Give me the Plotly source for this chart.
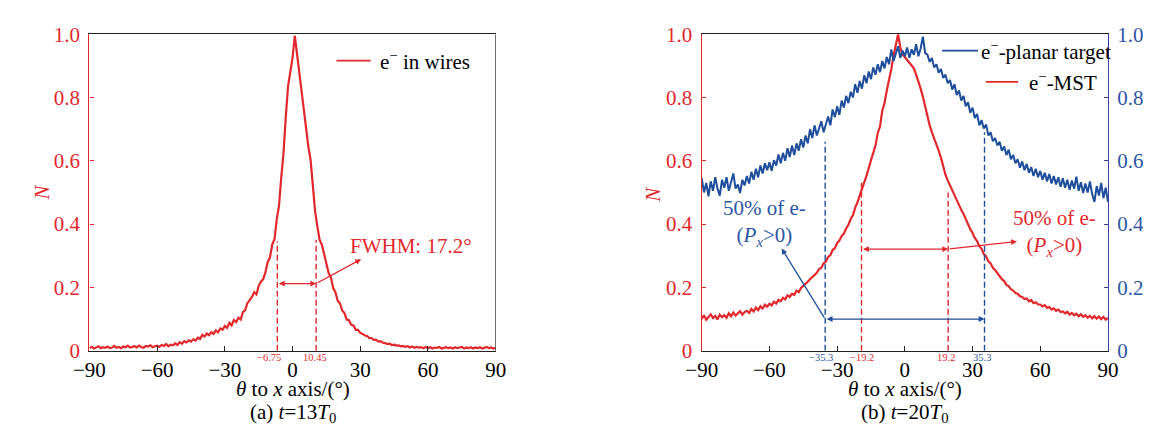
import plotly.graph_objects as go

# ---------------- data ----------------
ANGLES = list(range(-90, 91))  # theta to x axis (deg), 1 deg sampling

WIRES_N = [
    0.008, 0.012, 0.007, 0.010, 0.014, 0.008, 0.011, 0.009, 0.013, 0.008,
    0.010, 0.015, 0.009, 0.012, 0.008, 0.013, 0.011, 0.016, 0.010, 0.012,
    0.014, 0.010, 0.016, 0.012, 0.009, 0.015, 0.013, 0.017, 0.011, 0.014,
    0.016, 0.012, 0.018, 0.015, 0.021, 0.014, 0.019, 0.017, 0.023, 0.018,
    0.027, 0.022, 0.030, 0.026, 0.033, 0.029, 0.036, 0.032, 0.041, 0.037,
    0.050, 0.045, 0.054, 0.049, 0.058, 0.053, 0.064, 0.058, 0.070, 0.066,
    0.078, 0.072, 0.088, 0.080, 0.097, 0.090, 0.104, 0.098, 0.122, 0.128,
    0.150, 0.160, 0.170, 0.185, 0.178, 0.205, 0.218, 0.226, 0.248, 0.280,
    0.295, 0.335, 0.352, 0.415, 0.458, 0.548, 0.625, 0.738, 0.835, 0.880,
    0.925, 0.995, 0.935, 0.875, 0.825, 0.765, 0.705, 0.645, 0.602, 0.520,
    0.440, 0.392, 0.350, 0.335, 0.305, 0.282, 0.245, 0.232, 0.198, 0.185,
    0.158, 0.150, 0.127, 0.119, 0.098, 0.096, 0.082, 0.080, 0.066, 0.066,
    0.056, 0.053, 0.048, 0.047, 0.040, 0.040, 0.034, 0.035, 0.029, 0.030,
    0.025, 0.024, 0.021, 0.022, 0.018, 0.019, 0.016, 0.017, 0.014, 0.015,
    0.012, 0.014, 0.010, 0.013, 0.009, 0.012, 0.010, 0.011, 0.008, 0.012,
    0.008, 0.011, 0.007, 0.010, 0.009, 0.012, 0.007, 0.009, 0.011, 0.008,
    0.010, 0.007, 0.011, 0.008, 0.009, 0.012, 0.007, 0.010, 0.008, 0.011,
    0.007, 0.010, 0.008, 0.011, 0.007, 0.009, 0.012, 0.008, 0.010, 0.007, 0.009,
]

MST_N = [
    0.100, 0.112, 0.098, 0.108, 0.115, 0.103, 0.110, 0.099, 0.114, 0.106,
    0.112, 0.104, 0.118, 0.109, 0.121, 0.111, 0.117, 0.125, 0.114, 0.122,
    0.126, 0.119, 0.132, 0.124, 0.136, 0.128, 0.140, 0.133, 0.145, 0.139,
    0.148, 0.143, 0.155, 0.149, 0.161, 0.156, 0.167, 0.162, 0.175, 0.170,
    0.180, 0.176, 0.190, 0.185, 0.198, 0.204, 0.212, 0.218, 0.226, 0.233,
    0.242, 0.246, 0.258, 0.262, 0.276, 0.282, 0.296, 0.302, 0.318, 0.324,
    0.340, 0.348, 0.362, 0.370, 0.386, 0.398, 0.416, 0.428, 0.452, 0.468,
    0.490, 0.508, 0.532, 0.552, 0.582, 0.602, 0.625, 0.648, 0.688, 0.708,
    0.758, 0.782, 0.822, 0.852, 0.890, 0.932, 0.968, 1.000, 0.958, 0.935,
    0.928, 0.918, 0.912, 0.900, 0.892, 0.872, 0.852, 0.828, 0.802, 0.770,
    0.742, 0.712, 0.690, 0.672, 0.652, 0.632, 0.610, 0.582, 0.556, 0.538,
    0.522, 0.505, 0.492, 0.474, 0.462, 0.445, 0.432, 0.414, 0.402, 0.384,
    0.372, 0.356, 0.346, 0.330, 0.322, 0.305, 0.298, 0.282, 0.276, 0.262,
    0.255, 0.244, 0.236, 0.226, 0.220, 0.208, 0.204, 0.194, 0.190, 0.182,
    0.180, 0.172, 0.170, 0.163, 0.165, 0.156, 0.160, 0.150, 0.153, 0.146,
    0.146, 0.140, 0.144, 0.135, 0.138, 0.130, 0.134, 0.126, 0.130, 0.122,
    0.124, 0.118, 0.123, 0.114, 0.119, 0.112, 0.117, 0.109, 0.115, 0.107,
    0.112, 0.104, 0.110, 0.102, 0.109, 0.101, 0.108, 0.100, 0.107, 0.098, 0.104,
]

PLANAR_N = [
    0.545, 0.500, 0.530, 0.488, 0.535, 0.505, 0.548, 0.512, 0.490, 0.540,
    0.515, 0.548, 0.505, 0.532, 0.560, 0.512, 0.525, 0.498, 0.540, 0.522,
    0.552, 0.528, 0.565, 0.540, 0.575, 0.548, 0.585, 0.560, 0.592, 0.570,
    0.595, 0.568, 0.602, 0.585, 0.620, 0.592, 0.625, 0.600, 0.640, 0.612,
    0.648, 0.618, 0.655, 0.632, 0.668, 0.642, 0.680, 0.655, 0.700, 0.672,
    0.712, 0.680, 0.705, 0.725, 0.690, 0.715, 0.740, 0.712, 0.762, 0.738,
    0.772, 0.745, 0.790, 0.768, 0.805, 0.782, 0.818, 0.800, 0.842, 0.815,
    0.852, 0.828, 0.870, 0.845, 0.882, 0.858, 0.895, 0.872, 0.905, 0.880,
    0.915, 0.892, 0.928, 0.905, 0.952, 0.915, 0.935, 0.962, 0.925, 0.948,
    0.930, 0.958, 0.925, 0.952, 0.935, 0.968, 0.930, 0.955, 0.992, 0.940,
    0.935, 0.912, 0.925, 0.895, 0.905, 0.878, 0.890, 0.862, 0.872, 0.845,
    0.855, 0.825, 0.842, 0.808, 0.822, 0.790, 0.805, 0.772, 0.785, 0.752,
    0.768, 0.735, 0.748, 0.712, 0.728, 0.702, 0.715, 0.680, 0.690, 0.662,
    0.672, 0.648, 0.660, 0.632, 0.645, 0.618, 0.635, 0.605, 0.618, 0.592,
    0.605, 0.578, 0.598, 0.570, 0.590, 0.562, 0.580, 0.552, 0.575, 0.548,
    0.568, 0.540, 0.562, 0.535, 0.558, 0.528, 0.552, 0.525, 0.548, 0.518,
    0.545, 0.515, 0.540, 0.508, 0.538, 0.512, 0.550, 0.505, 0.532, 0.498,
    0.528, 0.500, 0.535, 0.495, 0.470, 0.520, 0.490, 0.530, 0.482, 0.515, 0.470,
]

X_TICKS = [-90, -60, -30, 0, 30, 60, 90]
Y_TICKS = [0, 0.2, 0.4, 0.6, 0.8, 1.0]
Y_TICK_TEXT = ["0", "0.2", "0.4", "0.6", "0.8", "1.0"]

# FWHM markers (panel a) and 50% markers (panel b)
FWHM_BOUNDS = [-6.75, 10.45]
FWHM_TOPS = [0.345, 0.350]
FWHM_ARROW_Y = 0.212
MST_BOUNDS = [-19.2, 19.2]
MST_TOPS = [0.54, 0.50]
MST_ARROW_Y = 0.321
PLANAR_BOUNDS = [-35.3, 35.3]
PLANAR_TOPS = [0.66, 0.69]
PLANAR_ARROW_Y = 0.10

# ---------------- style ----------------
W, H = 1151, 435
RED = "#e1282d"
BLUE = "#1f4e9c"
BLUE_AX = "#3a3f9f"
BLUE_TXT = "#2d56a6"
BLACK = "#222222"
FONT = "'Times New Roman', 'Liberation Serif', Times, 'DejaVu Serif', serif"
FS = 21


def px(x):
    return x / W


def py(y):
    return 1 - y / H


fig = go.Figure()

fig.add_trace(go.Scatter(x=ANGLES, y=WIRES_N, mode="lines", line=dict(color=RED, width=2.2),
                         xaxis="x", yaxis="y", showlegend=False, name="e<sup>−</sup> in wires"))
fig.add_trace(go.Scatter(x=ANGLES, y=MST_N, mode="lines", line=dict(color=RED, width=2.2),
                         xaxis="x2", yaxis="y2", showlegend=False, name="e<sup>−</sup>-MST"))
fig.add_trace(go.Scatter(x=ANGLES, y=PLANAR_N, mode="lines", line=dict(color=BLUE, width=2.0),
                         xaxis="x2", yaxis="y3", showlegend=False, name="e<sup>−</sup>-planar target"))

ydom = [py(350), py(15)]
xa = dict(range=[-90, 90], tickvals=X_TICKS, ticks="inside", ticklen=5, tickwidth=1, tickcolor=BLACK,
          showline=True, linecolor=BLACK, linewidth=1.3, mirror=True, showgrid=False, zeroline=False,
          tickfont=dict(family=FONT, size=FS, color="black"), fixedrange=True)
ya = dict(range=[0, 1], tickvals=Y_TICKS, ticktext=Y_TICK_TEXT, ticks="inside", ticklen=4,
          tickcolor=RED, showline=True, linecolor=RED, linewidth=1.3, showgrid=False, zeroline=False,
          tickfont=dict(family=FONT, size=FS, color=RED), domain=ydom, ticklabelstandoff=4)

fig.update_layout(
    width=W, height=H, margin=dict(l=0, r=0, t=0, b=0),
    paper_bgcolor="white", plot_bgcolor="white",
    font=dict(family=FONT, size=FS, color="black"),
    xaxis=dict(xa, domain=[px(67), px(483)], anchor="y"),
    yaxis=dict(ya, anchor="x"),
    xaxis2=dict(xa, domain=[px(694), px(1110)], anchor="y2"),
    yaxis2=dict(ya, anchor="x2"),
    yaxis3=dict(ya, anchor="x2", overlaying="y2", side="right", tickcolor=BLUE_AX, linecolor=BLUE_AX,
                tickfont=dict(family=FONT, size=FS, color=BLUE_TXT)),
)

shapes = []
# right border of panel (a)
shapes.append(dict(type="line", xref="x", yref="y", x0=90, x1=90, y0=0, y1=1,
                   line=dict(color=BLACK, width=1.3)))
dash = "6px,3px"
for xv, top in zip(FWHM_BOUNDS, FWHM_TOPS):
    shapes.append(dict(type="line", xref="x", yref="y", x0=xv, x1=xv, y0=0, y1=top,
                       line=dict(color=RED, width=1.4, dash=dash)))
for xv, top in zip(MST_BOUNDS, MST_TOPS):
    shapes.append(dict(type="line", xref="x2", yref="y2", x0=xv, x1=xv, y0=0, y1=top,
                       line=dict(color=RED, width=1.4, dash=dash)))
for xv, top in zip(PLANAR_BOUNDS, PLANAR_TOPS):
    shapes.append(dict(type="line", xref="x2", yref="y2", x0=xv, x1=xv, y0=0, y1=top,
                       line=dict(color=BLUE, width=1.4, dash=dash)))

# legend samples
shapes.append(dict(type="line", xref="paper", yref="paper", x0=px(320), x1=px(355), y0=py(43), y1=py(43),
                   line=dict(color=RED, width=1.8)))
shapes.append(dict(type="line", xref="paper", yref="paper", x0=px(940), x1=px(977), y0=py(32.5), y1=py(32.5),
                   line=dict(color=BLUE, width=1.8)))
shapes.append(dict(type="line", xref="paper", yref="paper", x0=px(985), x1=px(1018), y0=py(65.5), y1=py(65.5),
                   line=dict(color=RED, width=1.8)))
fig.update_layout(shapes=shapes)

ann = []


def text(x, y, s, color="black", size=FS, xanchor="center", angle=0):
    ann.append(dict(xref="paper", yref="paper", x=px(x), y=py(y), text=s, showarrow=False,
                    xanchor=xanchor, yanchor="middle", textangle=angle,
                    font=dict(family=FONT, size=size, color=color)))


def arrow(xr, yr, x0, y0, x1, y1, color, both=False):
    ann.append(dict(xref=xr, yref=yr, axref=xr, ayref=yr, x=x1, y=y1, ax=x0, ay=y0, text="",
                    showarrow=True, arrowhead=2, arrowsize=0.9, arrowwidth=1.3, arrowcolor=color,
                    arrowside="end+start" if both else "end", standoff=0, startstandoff=0))


# legends
text(363, 43, "e<sup>−</sup> in wires", xanchor="left")
text(978, 32.5, "e<sup>−</sup>-planar target", xanchor="left")
text(1027, 65.5, "e<sup>−</sup>-MST", xanchor="left")

# axis titles / captions
text(18, 183, "<i>N</i>", color=RED, angle=-90)
text(644, 185, "<i>N</i>", color=RED, angle=-90)
text(275, 391, "<i>θ</i> to <i>x</i> axis/(°)")
text(902, 391, "<i>θ</i> to <i>x</i> axis/(°)")
text(275, 416, "(a) <i>t</i>=13<i>T</i><sub>0</sub>")
text(902, 416, "(b) <i>t</i>=20<i>T</i><sub>0</sub>")

# small value labels under the axes
text(251, 357, "−6.75", color=RED, size=10.5)
text(298, 357, "10.45", color=RED, size=10.5)
text(816.5, 357, "−35.3", color=BLUE_TXT, size=10.5)
text(858, 357, "−19.2", color=RED, size=10.5)
text(944, 357, "19.2", color=RED, size=10.5)
text(981, 357, "35.3", color=BLUE_TXT, size=10.5)

# annotations texts
text(396, 239, "FWHM: 17.2°", color=RED)
text(758, 215, "50% of e-<br>(<i>P</i><sub><i>x</i></sub>&gt;0)", color=BLUE_TXT)
text(1055, 225, "50% of e-<br>(<i>P</i><sub><i>x</i></sub>&gt;0)", color=RED)

# arrows
arrow("x", "y", FWHM_BOUNDS[0], FWHM_ARROW_Y, FWHM_BOUNDS[1], FWHM_ARROW_Y, RED, both=True)
arrow("x", "y", FWHM_BOUNDS[1], FWHM_ARROW_Y, 30.4, 0.289, RED)
arrow("x2", "y2", MST_BOUNDS[0], MST_ARROW_Y, MST_BOUNDS[1], MST_ARROW_Y, RED, both=True)
arrow("x2", "y2", MST_BOUNDS[1], MST_ARROW_Y, 49.7, 0.345, RED)
arrow("x2", "y2", PLANAR_BOUNDS[0], PLANAR_ARROW_Y, PLANAR_BOUNDS[1], PLANAR_ARROW_Y, BLUE, both=True)
arrow("x2", "y2", PLANAR_BOUNDS[0], PLANAR_ARROW_Y, -54.6, 0.323, BLUE)

fig.update_layout(annotations=ann)

fig.write_html("out.html")
